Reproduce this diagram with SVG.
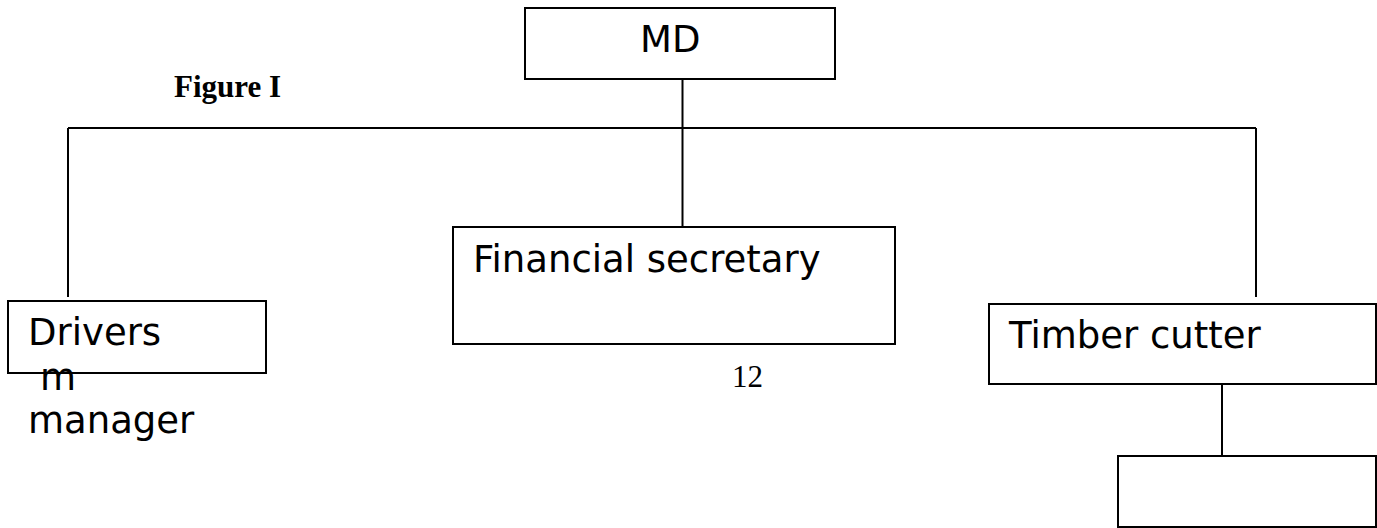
<svg xmlns="http://www.w3.org/2000/svg" width="1377" height="528" viewBox="0 0 1377 528">
<style>
.box{fill:#fff;stroke:#000;stroke-width:2}
.ln{fill:none;stroke:#000;stroke-width:2}
.t{font-family:"DejaVu Sans",sans-serif;font-size:37px;fill:#000}
.s{font-family:"Liberation Serif",serif;font-size:31px;fill:#000}
</style>
<rect width="1377" height="528" fill="#fff"/>
<g id="connectors">
<path class="ln" d="M682.5 80V226M68 128H1256M68 128V297M1256 128V297M1222 384V456"/>
</g>
<g id="md">
<rect class="box" x="525" y="8" width="310" height="71"/>
<text class="t" x="640" y="52">MD</text>
</g>
<g id="figure-label">
<text class="s" x="174" y="97" font-weight="bold" font-size="31.5">Figure I</text>
</g>
<g id="financial">
<rect class="box" x="453" y="227" width="442" height="117"/>
<text class="t" x="473" y="272">Financial secretary</text>
</g>
<g id="drivers">
<rect class="box" x="8" y="301" width="258" height="72"/>
<text class="t" x="28" y="345">Drivers</text>
<text class="t" x="40" y="390">m</text>
<text class="t" x="28" y="433">manager</text>
</g>
<g id="page-number">
<text class="s" x="732" y="387">12</text>
</g>
<g id="timber">
<rect class="box" x="989" y="304" width="387" height="80"/>
<text class="t" x="1009" y="348">Timber cutter</text>
</g>
<g id="sub-box">
<rect class="box" x="1118" y="456" width="258" height="71"/>
</g>
</svg>
